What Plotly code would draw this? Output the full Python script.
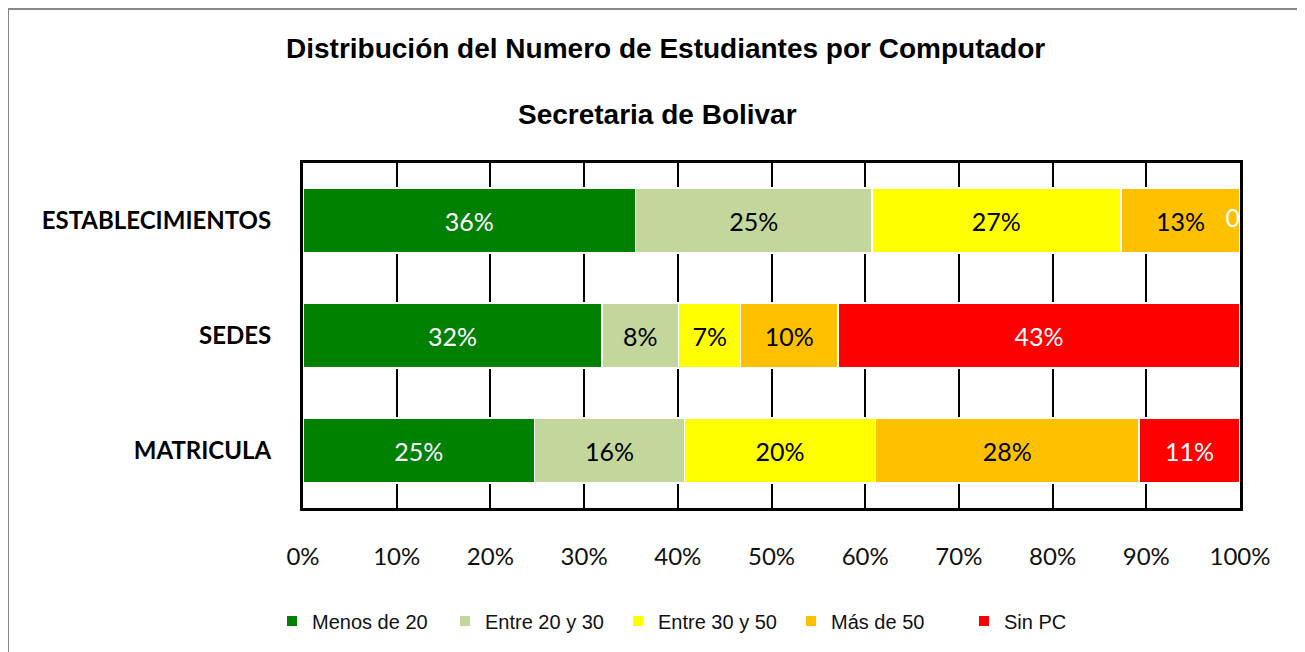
import plotly.graph_objects as go

categories = ["ESTABLECIMIENTOS", "SEDES", "MATRICULA"]
series_names = ["Menos de 20", "Entre 20 y 30", "Entre 30 y 50", "Más de 50", "Sin PC"]
menos_20 = [35.5, 31.9, 24.7]
entre_20_30 = [25.2, 8.2, 16.0]
entre_30_50 = [26.6, 6.6, 20.4]
mas_50 = [12.7, 10.4, 28.1]
sin_pc = [0.0, 42.9, 10.8]
series_values = [menos_20, entre_20_30, entre_30_50, mas_50, sin_pc]
colors = ["#008000", "#C3D69B", "#FFFF00", "#FFC000", "#FF0000"]
label_colors = ["white", "black", "black", "black", "white"]
tick_vals = [0, 10, 20, 30, 40, 50, 60, 70, 80, 90, 100]
tick_text = [f"{v}%" for v in tick_vals]

W, H = 1305, 652
L, R, T, B = 295, 73, 155, 152
pw = W - L - R
ph = H - T - B


def px_x(x):
    return (x - L) / pw


def px_y(y):
    return (H - y - B) / ph


label_font = "Lato, Open Sans, sans-serif"

fig = go.Figure()
cum = [0.0] * len(categories)
for name, vals, col, lc in zip(series_names, series_values, colors, label_colors):
    txt = [(f"{round(v)}%" if v > 0 else "") for v in vals]
    fig.add_trace(go.Bar(
        y=categories, x=vals, name=name, orientation="h",
        marker=dict(color=col, line=dict(color="white", width=1.5)),
        text=txt, textposition="inside", insidetextanchor="middle",
        textfont=dict(family=label_font, size=25, color=lc),
        constraintext="none", cliponaxis=False,
    ))
    cum = [round(c + v, 6) for c, v in zip(cum, vals)]
    zero_y = [cat for cat, v in zip(categories, vals) if v == 0]
    zero_x = [c for c, v in zip(cum, vals) if v == 0]
    if zero_y:
        fig.add_trace(go.Scatter(
            x=zero_x, y=zero_y, mode="text", text=["0"] * len(zero_y),
            textposition="middle left", showlegend=False, hoverinfo="skip",
            textfont=dict(family=label_font, size=25, color=lc), cliponaxis=False,
        ))

fig.update_layout(
    barmode="stack",
    bargap=0.435,
    width=W, height=H,
    paper_bgcolor="white", plot_bgcolor="white",
    margin=dict(l=L, r=R, t=T, b=B),
    legend=dict(orientation="h", x=px_x(264), xanchor="left", y=px_y(613), yanchor="middle",
                font=dict(family="Liberation Sans Narrow, Liberation Sans, Arial", size=20, color="#111"),
                entrywidth=128, entrywidthmode="pixels",
                traceorder="normal", itemsizing="constant", itemwidth=30),
    xaxis=dict(range=[0, 100.0001], tickvals=tick_vals, ticktext=tick_text,
               showgrid=True, gridcolor="black", gridwidth=2,
               showline=True, linecolor="black", linewidth=3, mirror=True,
               ticks="", ticklabelstandoff=25, zeroline=False,
               tickfont=dict(family=label_font, size=24, color="#111")),
    yaxis=dict(autorange="reversed", showline=True, linecolor="black", linewidth=3, mirror=True,
               ticks="", ticklabelstandoff=24,
               tickfont=dict(family=label_font, size=24, color="black", weight="bold")),
    annotations=[
        dict(text="<b>Distribución del Numero de Estudiantes por Computador</b>",
             x=px_x(657), y=px_y(41), xref="paper", yref="paper", showarrow=False,
             xanchor="center", yanchor="middle",
             font=dict(family="Liberation Sans, Arial", size=28, color="black")),
        dict(text="<b>Secretaria de Bolivar</b>",
             x=px_x(649), y=px_y(107), xref="paper", yref="paper", showarrow=False,
             xanchor="center", yanchor="middle",
             font=dict(family="Liberation Sans, Arial", size=28, color="black")),
    ],
)
fig.add_shape(type="rect", xref="paper", yref="paper",
              x0=px_x(0), x1=px_x(1295), y0=px_y(670), y1=px_y(1),
              line=dict(color="#888", width=2), layer="below")
fig.write_html("out.html")
